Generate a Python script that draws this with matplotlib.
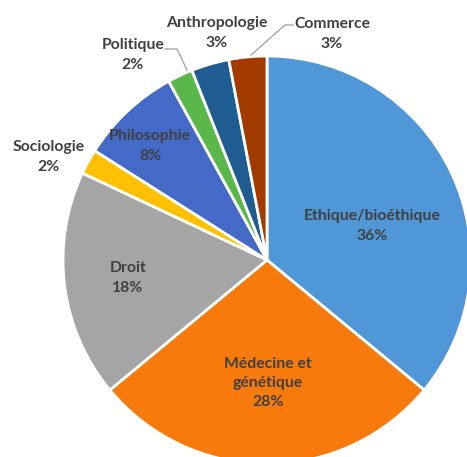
import matplotlib
matplotlib.use("Agg")
import matplotlib.pyplot as plt

categories = ["Ethique/bioéthique", "Médecine et\ngénétique", "Droit", "Sociologie",
              "Philosophie", "Politique", "Anthropologie", "Commerce"]
values = [36, 28, 18, 2, 8, 2, 3, 3]
colors = ["#4F97D7", "#F77A0C", "#A5A5A5", "#FFC000", "#4569C7", "#5AB84A", "#1E5C92", "#A33B00"]

W, H = 467, 457
fig = plt.figure(figsize=(W / 100, H / 100), dpi=100)
ax = fig.add_axes([0, 0, 1, 1])

cx, cy, R = 267, H - 260, 204
ax.pie(values, colors=colors, startangle=90, counterclock=False,
       center=(cx, cy), radius=R, frame=True,
       wedgeprops=dict(edgecolor="white", linewidth=2))
ax.set_xlim(0, W)
ax.set_ylim(0, H)
ax.set_aspect("equal")
ax.axis("off")

# label positions in pixels (x, y from top)
label_pos = [(372, 226), (268, 383), (128, 278), (49, 157),
             (150, 146), (133, 55), (217, 33), (332, 34)]
font = dict(family=["Lato", "DejaVu Sans"], fontsize=11.3, fontweight="bold", color="#404040")
for cat, v, (x, y) in zip(categories, values, label_pos):
    ax.text(x, H - y, f"{cat}\n{v}%", ha="center", va="center",
            linespacing=1.5, **font)

# leader lines
lc = "#A6A6A6"
ax.plot([165, 177, 187], [H - 49, H - 49, H - 70], color=lc, lw=1)
ax.plot([293, 285, 251], [H - 25, H - 25, H - 55], color=lc, lw=1)

fig.savefig("out.png", dpi=100)
